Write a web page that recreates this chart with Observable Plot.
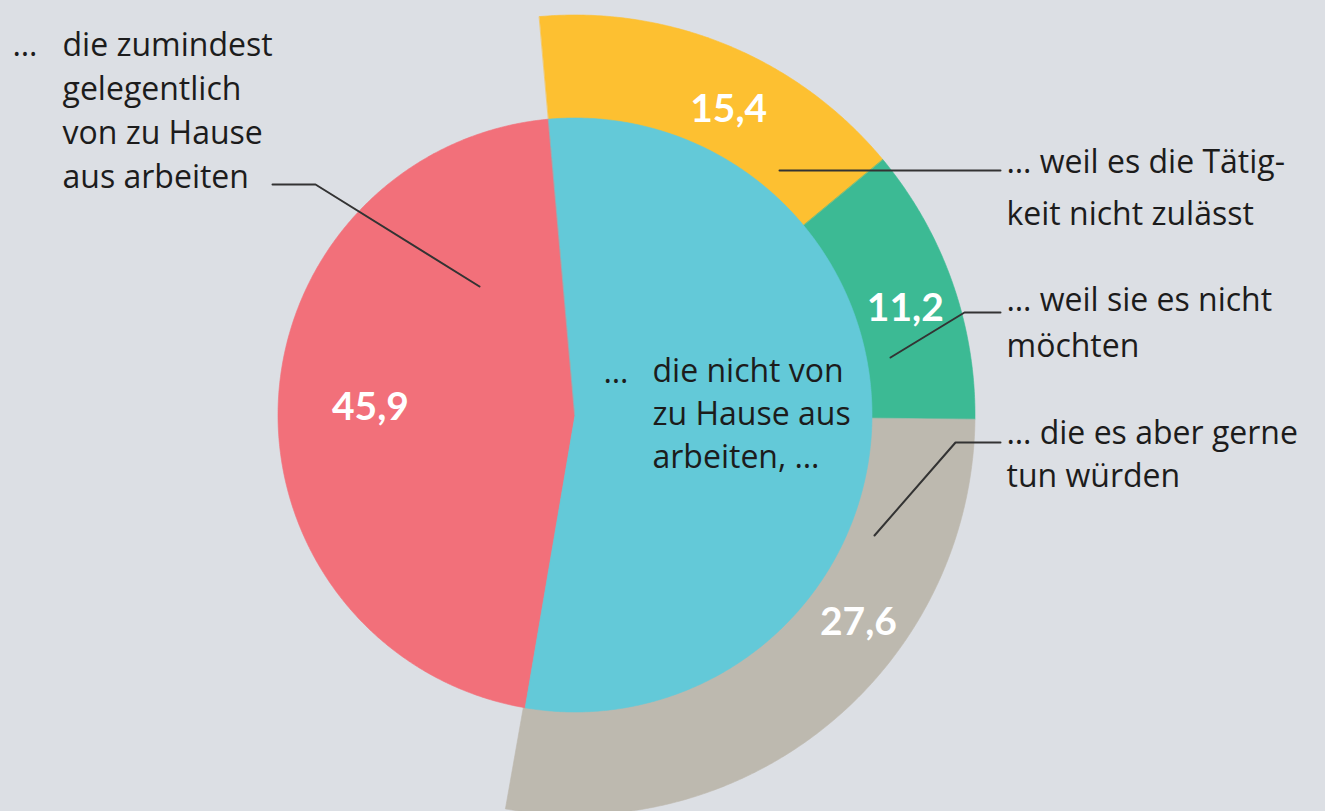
<!DOCTYPE html>
<html>
<head>
<meta charset="utf-8">
<script src="https://cdn.jsdelivr.net/npm/d3@7"></script>
<script src="https://cdn.jsdelivr.net/npm/@observablehq/plot@0.6"></script>
<style>
  html, body { margin: 0; padding: 0; background: #dcdfe4; }
  #chart svg { display: block; }
</style>
</head>
<body>
<div id="chart"></div>
<script>
// ---------- data ----------
const mainCategories = [
  "… die zumindest gelegentlich von zu Hause aus arbeiten",
  "… die nicht von zu Hause aus arbeiten, …"
];
const mainValues = [45.9, 54.1];
const subCategories = [
  "… weil es die Tätigkeit nicht zulässt",
  "… weil sie es nicht möchten",
  "… die es aber gerne tun würden"
];
const subValues = [15.4, 11.2, 27.6];

// label texts (line-broken as in the original)
const mainLabelLines = [
  ["die zumindest", "gelegentlich", "von zu Hause", "aus arbeiten"],
  ["die nicht von", "zu Hause aus", "arbeiten, …"]
];
const subLabelLines = [
  ["… weil es die Tätig-", "keit nicht zulässt"],
  ["… weil sie es nicht", "möchten"],
  ["… die es aber gerne", "tun würden"]
];

// ---------- styles & layout ----------
const W = 1325, H = 811;
const cx = 575, cy = 415;         // pie centre (px)
const R = 400, rInner = 297;      // outer ring radius, inner pie radius (px)
const startDeg = -5.1;            // where the "nicht" slice starts (clockwise from 12 o'clock)
const mainColors = ["#f2707a", "#63c9d8"];
const subColors = ["#fdc031", "#3cba94", "#bdb9af"];
const font = "'Open Sans', Lato, sans-serif";
const numFont = "Lato, 'Open Sans', sans-serif";
const textColor = "#1c1c1c";
const textSize = 32;

// number label placement (angle offset from slice middle, radius as fraction of R)
const mainNumberPlace = [{dAngle: 0, r: 0.513}, null];
const subNumberPlace = [{dAngle: 4, r: 0.855}, {dAngle: 1.5, r: 0.867}, {dAngle: -14.1, r: 0.877}];

// category label anchors (px): x, centre of first line, line step
const mainLabelPlace = [
  {x: 62, y: 41, step: 44, dots: 12, dotsY: 45},
  {x: 652, y: 368, step: 43, dots: 603, dotsY: 372}
];
const subLabelPlace = [
  {x: 1006, y: 156, step: 52},
  {x: 1006, y: 296, step: 46},
  {x: 1006, y: 430, step: 43}
];
// leader lines (px)
const leaders = [
  [[272, 184], [315, 184], [479, 286]],
  [[779, 170], [1000, 170]],
  [[890, 357], [964, 312], [1000, 312]],
  [[874, 535], [955, 442], [1000, 442]]
];

// ---------- geometry helpers ----------
const total = d3.sum(mainValues);
const degPer = 360 / total;
const rad = d => d * Math.PI / 180;
const ux = px => (px - cx) / R;
const uy = py => (py - cy) / R;
const polar = (deg, r) => ({x: r * Math.sin(rad(deg)), y: -r * Math.cos(rad(deg))});

function wedge(id, a0, a1, r0, r1, color) {
  const n = Math.max(2, Math.ceil(Math.abs(a1 - a0) / 0.4));
  const pts = [];
  for (let i = 0; i <= n; i++) {
    const a = a0 + (a1 - a0) * i / n;
    const p0 = polar(a, r0), p1 = polar(a, r1);
    pts.push({id, color, x1: p0.x, y1: p0.y, x2: p1.x, y2: p1.y});
  }
  return pts;
}

// angles: index 1 ("nicht") starts at startDeg, index 0 follows
const notStart = startDeg;
const notEnd = notStart + mainValues[1] * degPer;
const mainAngles = [
  [notEnd, notEnd + mainValues[0] * degPer],
  [notStart, notEnd]
];
let acc = startDeg;
const subAngles = subValues.map(v => { const a = [acc, acc + v * degPer]; acc += v * degPer; return a; });

const ri = rInner / R;
const outerPts = subValues.flatMap((v, i) => wedge("s" + i, subAngles[i][0], subAngles[i][1], 0, 1, subColors[i]));
const innerPts = mainValues.flatMap((v, i) => wedge("m" + i, mainAngles[i][0], mainAngles[i][1], 0, ri, mainColors[i]));

const fmt = v => v.toFixed(1).replace(".", ",");
const numberLabels = [];
mainValues.forEach((v, i) => {
  const pl = mainNumberPlace[i]; if (!pl) return;
  const mid = (mainAngles[i][0] + mainAngles[i][1]) / 2 + pl.dAngle;
  numberLabels.push({...polar(mid, pl.r), text: fmt(v)});
});
subValues.forEach((v, i) => {
  const pl = subNumberPlace[i];
  const mid = (subAngles[i][0] + subAngles[i][1]) / 2 + pl.dAngle;
  numberLabels.push({...polar(mid, pl.r), text: fmt(v)});
});

// one multi-line text block per label
const blocks = [];
const dotLines = [];
mainLabelLines.forEach((lines, i) => {
  const p = mainLabelPlace[i];
  blocks.push({x: ux(p.x), y: uy(p.y + p.step * (lines.length - 1) / 2), text: lines.join("\n"), lh: p.step / textSize});
  dotLines.push({x: ux(p.dots), y: uy(p.dotsY), text: "…"});
});
subLabelLines.forEach((lines, i) => {
  const p = subLabelPlace[i];
  blocks.push({x: ux(p.x), y: uy(p.y + p.step * (lines.length - 1) / 2), text: lines.join("\n"), lh: p.step / textSize});
});

const leaderPts = leaders.flatMap((l, i) => l.map(([px, py]) => ({id: i, x: ux(px), y: uy(py)})));

const chart = Plot.plot({
  width: W,
  height: H,
  margin: 0,
  x: {domain: [ux(0), ux(W)], range: [0, W], axis: null},
  y: {domain: [uy(0), uy(H)], range: [0, H], axis: null},
  style: {background: "#dcdfe4", fontFamily: font, overflow: "hidden"},
  marks: [
    Plot.area(outerPts, {x1: "x1", y1: "y1", x2: "x2", y2: "y2", z: "id", fill: d => d.color, stroke: d => d.color, strokeWidth: 0.6}),
    Plot.area(innerPts, {x1: "x1", y1: "y1", x2: "x2", y2: "y2", z: "id", fill: d => d.color, stroke: d => d.color, strokeWidth: 0.6}),
    Plot.line(leaderPts, {x: "x", y: "y", z: "id", stroke: "#333", strokeWidth: 2}),
    Plot.text(numberLabels, {x: "x", y: "y", text: "text", fill: "white", fontSize: 39, fontWeight: "bold", fontFamily: numFont}),
    ...blocks.map(b => Plot.text([b], {x: "x", y: "y", text: "text", fill: textColor, fontSize: textSize, textAnchor: "start", lineAnchor: "middle", lineHeight: b.lh, fontFamily: font})),
    Plot.text(dotLines, {x: "x", y: "y", text: "text", fill: textColor, fontSize: textSize, textAnchor: "start", fontFamily: font})
  ]
});
document.getElementById("chart").appendChild(chart);
</script>
</body>
</html>
